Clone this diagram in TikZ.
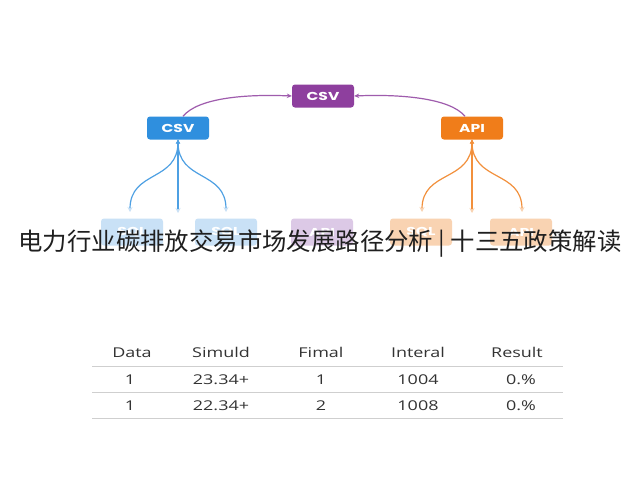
\documentclass[tikz,border=0pt]{standalone}
\usepackage{fontspec}
\setmainfont{Open Sans}
\newfontfamily\tabfont{Open Sans}[FakeStretch=1.33]
\newfontfamily\cjk{Noto Sans CJK SC}
\newfontfamily\boxfont{Poppins}[FakeStretch=1.35]
\usetikzlibrary{arrows.meta}
\definecolor{cpurple}{HTML}{8E3F9E}
\definecolor{cblue}{HTML}{2F8FDE}
\definecolor{corange}{HTML}{F07D1A}
\definecolor{lblue}{HTML}{C9E1F6}
\definecolor{lpurple}{HTML}{DCC9E6}
\definecolor{lorange}{HTML}{F9D3B2}
\definecolor{tgray}{HTML}{333333}
\definecolor{rule}{HTML}{CFCFCF}
\begin{document}
\begin{tikzpicture}[x=1pt,y=-1pt,
  mainbox/.style={rounded corners=3pt, minimum width=62pt, minimum height=23pt, inner sep=0pt,
    text=white, font=\boxfont\bfseries\fontsize{11.5}{12}\selectfont},
  fadebox/.style={rounded corners=3pt, minimum width=62pt, minimum height=27pt, inner sep=0pt,
    text=white, font=\boxfont\bfseries\fontsize{11.5}{12}\selectfont},
  toparrow/.style={draw=cpurple!85, line width=1.2pt, -{Stealth[length=5pt,width=4.5pt]}},
  fanblue/.style={draw=cblue!85, line width=1.2pt, {Stealth[length=4pt,width=4pt]}-{Stealth[length=5pt,width=5pt,color=lblue]}},
  fanorange/.style={draw=corange!85, line width=1.2pt, {Stealth[length=4pt,width=4pt]}-{Stealth[length=5pt,width=5pt,color=lorange]}},
  cell/.style={font=\tabfont\fontsize{13.5}{15}\selectfont, text=tgray, anchor=base},
  ruleline/.style={draw=rule, line width=0.8pt}
]
\useasboundingbox (0,0) rectangle (640,480);
\fill[white] (0,0) rectangle (640,480);

% main boxes
\node[mainbox, fill=cpurple] (top) at (323,96) {CSV};
\node[mainbox, fill=cblue] (csv) at (178,128) {CSV};
\node[mainbox, fill=corange] (api) at (472,128) {API};

% faded boxes
\node[fadebox, fill=lblue] (b1) at (132,232) {SQL};
\node[fadebox, fill=lblue] (b2) at (226,232) {SQL};
\node[fadebox, fill=lpurple] (b3) at (322,232) {API};
\node[fadebox, fill=lorange] (b4) at (421,232) {SQL};
\node[fadebox, fill=lorange] (b5) at (521,232) {API};

% fan target coordinates
\coordinate (e1) at (130,212);
\coordinate (e2) at (178,213);
\coordinate (e3) at (226,212);
\coordinate (e4) at (422,212);
\coordinate (e5) at (472,213);
\coordinate (e6) at (522,212);

% top arrows
\draw[toparrow] ([xshift=5pt]csv.north) .. controls (198,98) and (245,94) .. (top.west);
\draw[toparrow] ([xshift=-7pt]api.north) .. controls (450,98) and (400,94) .. (top.east);

% blue fan
\draw[fanblue] (csv.south) .. controls (178,182) and (130,170) .. (e1);
\draw[fanblue] (csv.south) -- (e2);
\draw[fanblue] (csv.south) .. controls (178,182) and (226,170) .. (e3);
% orange fan
\draw[fanorange] (api.south) .. controls (472,182) and (422,170) .. (e4);
\draw[fanorange] (api.south) -- (e5);
\draw[fanorange] (api.south) .. controls (472,182) and (522,170) .. (e6);

% title
\node[font=\cjk\fontsize{24.4}{26}\selectfont, text=black!88, inner sep=0pt] (title) at (320,244)
  {电力行业碳排放交易市场发展路径分析 | 十三五政策解读};

% table
\draw[ruleline] (92,366) coordinate (r1a) -- (563,366) coordinate (r1b);
\draw[ruleline] (92,392) coordinate (r2a) -- (563,392) coordinate (r2b);
\draw[ruleline] (92,418) coordinate (r3a) -- (563,418) coordinate (r3b);

\node[cell] (h1) at (132,357) {Data};
\node[cell] (h2) at (221,357) {Simuld};
\node[cell] (h3) at (321,357) {Fimal};
\node[cell] (h4) at (418,357) {Interal};
\node[cell] (h5) at (517,357) {Result};

\node[cell] (a1) at (130,384) {1};
\node[cell] (a2) at (221,384) {23.34+};
\node[cell] (a3) at (321,384) {1};
\node[cell] (a4) at (418,384) {1004};
\node[cell] (a5) at (521,384) {0.\%};

\node[cell] (c1) at (130,410) {1};
\node[cell] (c2) at (221,410) {22.34+};
\node[cell] (c3) at (321,410) {2};
\node[cell] (c4) at (418,410) {1008};
\node[cell] (c5) at (521,410) {0.\%};
\end{tikzpicture}
\end{document}
